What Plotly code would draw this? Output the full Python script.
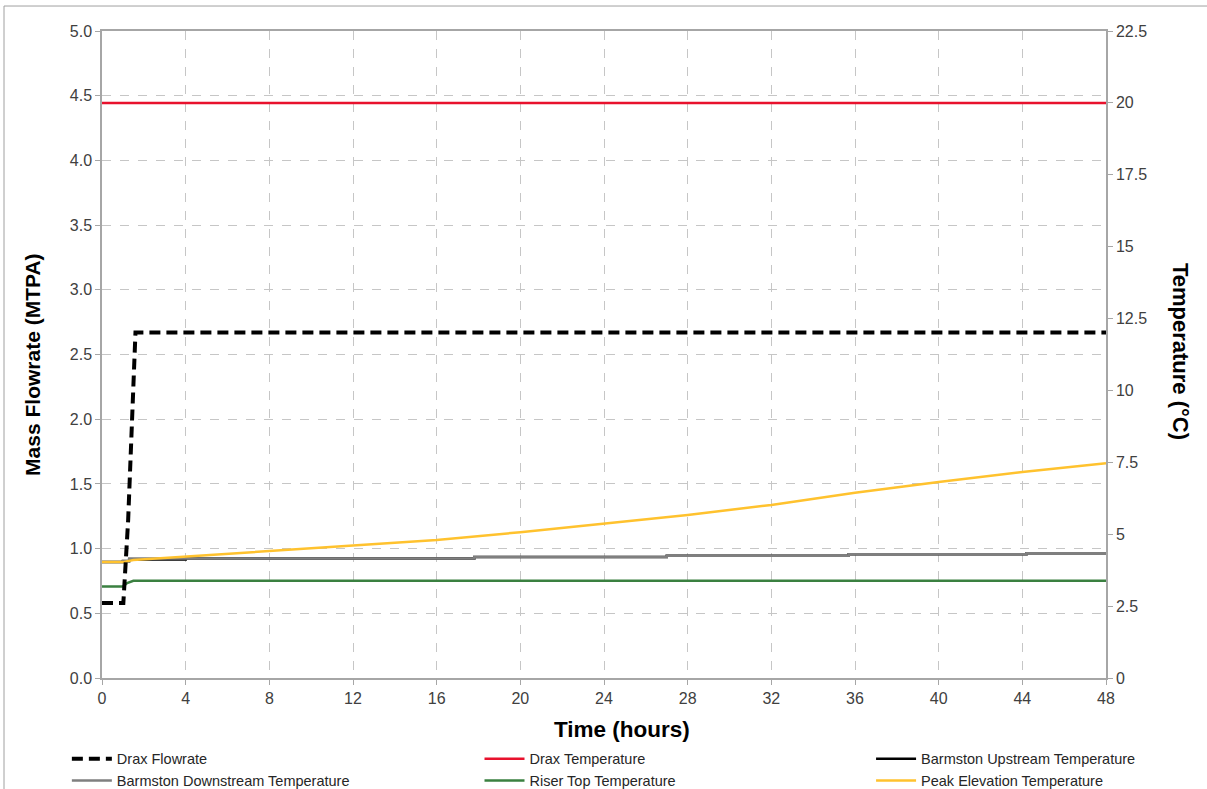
import plotly.graph_objects as go

# ---- data -------------------------------------------------------------
flow_time = [0, 1.02, 1.25, 1.6, 48]
drax_flowrate = [0.58, 0.58, 1.22, 2.67, 2.67]

drax_temp_time = [0, 48]
drax_temperature = [20.0, 20.0]

step_time_up = [0, 1.0, 1.3, 4.0, 17.8, 27.0, 35.7, 44.2, 48]
barmston_upstream = [4.03, 4.06, 4.12, 4.16, 4.21, 4.25, 4.30, 4.34, 4.34]

step_time_down = [0, 1.0, 1.3, 17.8, 27.0, 35.7, 44.2, 48]
barmston_downstream = [4.03, 4.08, 4.16, 4.21, 4.25, 4.30, 4.34, 4.34]

riser_time = [0, 1.0, 1.2, 1.5, 48]
riser_top = [3.18, 3.18, 3.30, 3.38, 3.38]

peak_time = [0, 1.0, 1.5, 4, 8, 12, 16, 20, 24, 28, 32, 36, 40, 44, 48]
peak_elevation = [4.03, 4.03, 4.10, 4.22, 4.42, 4.59, 4.80, 5.07, 5.36,
                  5.67, 6.02, 6.44, 6.82, 7.16, 7.47]

x_ticks = list(range(0, 49, 4))
flow_ticks = [i * 0.5 for i in range(11)]
temp_ticks = [i * 2.5 for i in range(10)]
temp_tick_text = ["0", "2.5", "5", "7.5", "10", "12.5", "15", "17.5", "20", "22.5"]

FONT = "Arial, Liberation Sans, sans-serif"
TICK_COLOR = "#404040"
GRID = "#c6c6c6"
AXIS_LINE = "#a6a6a6"
TICK_SIZE = 16

fig = go.Figure()

# Temperatures on the right-hand axis (y), flowrate on the left (y2, drawn on top)
fig.add_trace(go.Scatter(x=drax_temp_time, y=drax_temperature, mode="lines",
                         name="Drax Temperature", yaxis="y",
                         line=dict(color="#e8112d", width=2.5),
                         legend="legend2"))
fig.add_trace(go.Scatter(x=step_time_up, y=barmston_upstream, mode="lines",
                         name="Barmston Upstream Temperature", yaxis="y",
                         line=dict(color="#000000", width=2.5, shape="hv"),
                         legend="legend3"))
fig.add_trace(go.Scatter(x=step_time_down, y=barmston_downstream, mode="lines",
                         name="Barmston Downstream Temperature", yaxis="y",
                         line=dict(color="#7f7f7f", width=2.5, shape="hv"),
                         legend="legend"))
fig.add_trace(go.Scatter(x=riser_time, y=riser_top, mode="lines",
                         name="Riser Top Temperature", yaxis="y",
                         line=dict(color="#3a8040", width=2.5),
                         legend="legend2"))
fig.add_trace(go.Scatter(x=peak_time, y=peak_elevation, mode="lines",
                         name="Peak Elevation Temperature", yaxis="y",
                         line=dict(color="#ffc22e", width=2.5),
                         legend="legend3"))
fig.add_trace(go.Scatter(x=flow_time, y=drax_flowrate, mode="lines",
                         name="Drax Flowrate", yaxis="y2",
                         line=dict(color="#000000", width=4, dash="11px,6px"),
                         legend="legend", legendrank=1))

legend_common = dict(orientation="v", xanchor="left", yanchor="top",
                     font=dict(family=FONT, size=14.5, color="#262626"),
                     bgcolor="rgba(0,0,0,0)", borderwidth=0,
                     tracegroupgap=0, itemwidth=40, traceorder="normal")
ly = -0.1

fig.update_layout(
    width=1207, height=789,
    margin=dict(l=102, r=101, t=31, b=111, autoexpand=False),
    paper_bgcolor="white", plot_bgcolor="white",
    font=dict(family=FONT, color=TICK_COLOR),
    xaxis=dict(range=[0, 48], tickvals=x_ticks, ticks="outside", ticklen=5,
               tickcolor=AXIS_LINE, showline=True, linecolor=AXIS_LINE,
               linewidth=1.5, mirror=True, showgrid=True, gridcolor=GRID,
               griddash="dash", gridwidth=1, zeroline=False,
               tickfont=dict(family=FONT, size=TICK_SIZE, color=TICK_COLOR)),
    yaxis=dict(range=[0, 22.5], tickvals=temp_ticks, ticktext=temp_tick_text,
               side="right", ticks="outside", ticklen=5, tickcolor=AXIS_LINE,
               showline=True, linecolor=AXIS_LINE, linewidth=1.5,
               showgrid=False, zeroline=False,
               tickfont=dict(family=FONT, size=TICK_SIZE, color=TICK_COLOR)),
    yaxis2=dict(range=[0, 5], tickvals=flow_ticks, tickformat=".1f",
                overlaying="y", side="left", ticks="outside", ticklen=5,
                tickcolor=AXIS_LINE, showline=True, linecolor=AXIS_LINE,
                linewidth=1.5, showgrid=True, gridcolor=GRID, griddash="dash",
                gridwidth=1, zeroline=False,
                tickfont=dict(family=FONT, size=TICK_SIZE, color=TICK_COLOR)),
    legend=dict(x=-0.035, y=ly, **legend_common),
    legend2=dict(x=0.376, y=ly, **legend_common),
    legend3=dict(x=0.766, y=ly, **legend_common),
    annotations=[
        dict(text="<b>Time (hours)</b>", xref="paper", yref="paper",
             x=0.518, y=-0.079, xanchor="center", yanchor="middle",
             showarrow=False, font=dict(family=FONT, size=22.5, color="#000000")),
        dict(text="<b>Mass Flowrate (MTPA)</b>", xref="paper", yref="paper",
             x=-0.0687, y=0.484, xanchor="center", yanchor="middle",
             textangle=-90, showarrow=False,
             font=dict(family=FONT, size=21, color="#000000")),
        dict(text="<b>Temperature (°C)</b>", xref="paper", yref="paper",
             x=1.0737, y=0.504, xanchor="center", yanchor="middle",
             textangle=90, showarrow=False,
             font=dict(family=FONT, size=22, color="#000000")),
    ],
    shapes=[
        # outer chart frame
        dict(type="rect", xref="paper", yref="paper",
             x0=-0.0976, x1=1.2, y0=-0.4, y1=1.0386,
             line=dict(color="#a0a0a0", width=1), layer="below"),
    ],
)

fig.write_html("out.html")
